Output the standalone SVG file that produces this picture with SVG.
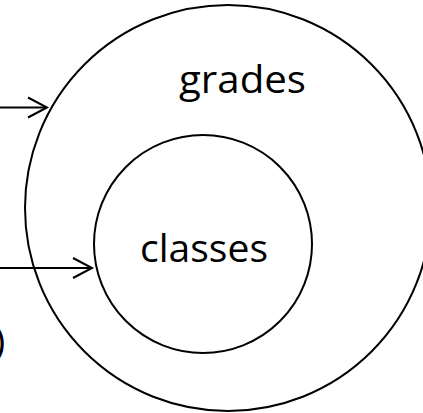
<svg xmlns="http://www.w3.org/2000/svg" width="423" height="413" viewBox="0 0 423 413">
<style>
.ring{fill:none;stroke:#000;stroke-width:2}
.lbl{font-family:"Open Sans","Noto Sans","Liberation Sans",sans-serif;font-size:38px;fill:#000}
.conn{stroke:#000;stroke-width:2;fill:none}
</style>
<defs>
<marker id="chev" markerUnits="userSpaceOnUse" viewBox="-22 -13 25 26" markerWidth="25" markerHeight="26" refX="0" refY="0" orient="auto">
<path d="M-19,-10 L0,0 L-19,10" fill="none" stroke="#000" stroke-width="2"/>
</marker>
</defs>
<rect width="423" height="413" fill="#fff"/>
<g id="grades">
<circle class="ring" cx="228" cy="208" r="203"/>
<text class="lbl" x="179" y="93" textLength="127" lengthAdjust="spacingAndGlyphs">grades</text>
</g>
<g id="classes">
<circle class="ring" cx="203" cy="244" r="109"/>
<text class="lbl" x="140" y="262" textLength="128" lengthAdjust="spacingAndGlyphs">classes</text>
</g>
<g id="offcanvas">
<text class="lbl" x="-6" y="355">)</text>
</g>
<g id="connectors">
<line class="conn" x1="0" y1="107.5" x2="47" y2="107.5" marker-end="url(#chev)"/>
<line class="conn" x1="0" y1="268" x2="92" y2="268" marker-end="url(#chev)"/>
</g>
</svg>
